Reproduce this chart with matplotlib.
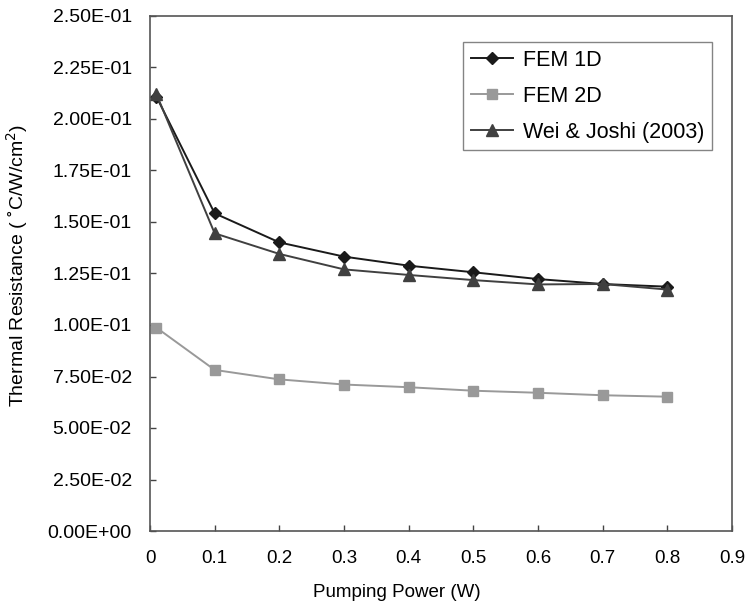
import matplotlib
matplotlib.use("Agg")
import matplotlib.pyplot as plt
from matplotlib.ticker import FormatStrFormatter

plt.rcParams['font.family'] = ['Liberation Sans', 'DejaVu Sans']

# pumping power (W)
power = [0.01, 0.1, 0.2, 0.3, 0.4, 0.5, 0.6, 0.7, 0.8]

# thermal resistance values
fem_1d = [0.2108, 0.1542, 0.1401, 0.1332, 0.1288, 0.1256, 0.1223, 0.1199, 0.1186]
fem_2d = [0.0987, 0.0782, 0.0736, 0.0711, 0.0698, 0.0681, 0.0671, 0.0659, 0.0652]
wei_joshi = [0.2120, 0.1445, 0.1345, 0.1270, 0.1243, 0.1218, 0.1197, 0.1199, 0.1172]

x_ticks = [0, 0.1, 0.2, 0.3, 0.4, 0.5, 0.6, 0.7, 0.8, 0.9]
x_tick_labels = ['0', '0.1', '0.2', '0.3', '0.4', '0.5', '0.6', '0.7', '0.8', '0.9']
y_ticks = [0, 0.025, 0.05, 0.075, 0.1, 0.125, 0.15, 0.175, 0.2, 0.225, 0.25]

fig = plt.figure(figsize=(7.52, 6.10), dpi=100)
ax = fig.add_axes([150 / 752, 1 - 531 / 610, 582 / 752, 515 / 610])

ax.plot(power, fem_1d, color='#1a1a1a', marker='D', markersize=6.5, lw=1.4, label='FEM 1D')
ax.plot(power, fem_2d, color='#999999', marker='s', markersize=7, lw=1.4, label='FEM 2D')
ax.plot(power, wei_joshi, color='#404040', marker='^', markersize=8, lw=1.4, label='Wei & Joshi (2003)')

ax.set_xlim(0, 0.9)
ax.set_ylim(0, 0.25)
ax.set_xticks(x_ticks)
ax.set_xticklabels(x_tick_labels)
ax.set_yticks(y_ticks)
ax.yaxis.set_major_formatter(FormatStrFormatter('%.2E'))
ax.tick_params(direction='in', length=4.5, width=1, color='#444444')
ax.tick_params(axis='y', labelsize=14, pad=13)
ax.tick_params(axis='x', labelsize=13.5, pad=14)

for s in ax.spines.values():
    s.set_color('#555555')
    s.set_linewidth(1.2)

ax.set_xlabel('Pumping Power (W)', fontsize=13.5)
ax.xaxis.set_label_coords(0.424, -0.103)
ax.set_ylabel('Thermal Resistance ( ˚C/W/cm$^2$)', fontsize=14)
ax.yaxis.set_label_coords(-0.206, 0.515)

leg = ax.legend(loc='upper left', bbox_to_anchor=(0.538, 0.9495), fontsize=15.5,
                frameon=True, fancybox=False, edgecolor='#666666', borderpad=0.35,
                handlelength=1.95, handletextpad=0.47, labelspacing=0.7, borderaxespad=0)
leg.get_frame().set_linewidth(1.0)

fig.savefig('out.png', dpi=100)
